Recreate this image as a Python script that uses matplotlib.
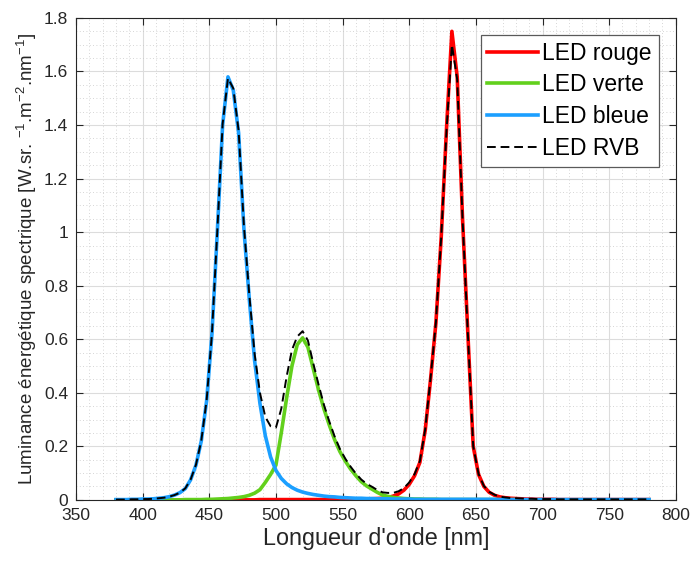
import numpy as np
import matplotlib.pyplot as plt
from matplotlib.ticker import MultipleLocator, FormatStrFormatter

plt.rcParams['font.family'] = ['Liberation Sans', 'DejaVu Sans']
plt.rcParams['mathtext.fontset'] = 'custom'
plt.rcParams['mathtext.rm'] = 'Liberation Sans'
plt.rcParams['mathtext.it'] = 'Liberation Sans:italic'

# wavelength grid, 380..780 nm step 4
wl = np.arange(380, 781, 4)

bleue = [0.001, 0.001, 0.001, 0.002, 0.002, 0.003, 0.003, 0.004, 0.006, 0.008,
         0.012, 0.018, 0.027, 0.042, 0.075, 0.13, 0.22, 0.37, 0.62, 1.00,
         1.40, 1.58, 1.53, 1.37, 1.01, 0.75, 0.52, 0.36, 0.24, 0.16,
         0.11, 0.08, 0.06, 0.046, 0.036, 0.029, 0.024, 0.020, 0.017, 0.014,
         0.012, 0.011, 0.009, 0.008, 0.007, 0.006, 0.006, 0.005, 0.005, 0.004,
         0.004, 0.004, 0.003, 0.003, 0.003, 0.003, 0.002, 0.002, 0.002, 0.002,
         0.002, 0.002, 0.002, 0.002, 0.002, 0.002, 0.002, 0.002, 0.002, 0.002,
         0.002, 0.002, 0.001, 0.001, 0.001, 0.001, 0.001, 0.001, 0.001, 0.001,
         0.001, 0.001, 0.001, 0.001, 0.001, 0.001, 0.001, 0.001, 0.001, 0.001,
         0.001, 0.001, 0.001, 0.001, 0.001, 0.001, 0.001, 0.001, 0.001, 0.001,
         0.001]

verte = [0.0, 0.0, 0.0, 0.0, 0.0, 0.0, 0.0, 0.0, 0.0, 0.0,
         0.0, 0.0, 0.0, 0.001, 0.001, 0.001, 0.001, 0.002, 0.002, 0.003,
         0.004, 0.005, 0.007, 0.009, 0.012, 0.017, 0.025, 0.038, 0.065, 0.095,
         0.13, 0.25, 0.38, 0.50, 0.58, 0.605, 0.57, 0.49, 0.41, 0.34,
         0.28, 0.225, 0.18, 0.145, 0.115, 0.09, 0.068, 0.052, 0.04, 0.028,
         0.018, 0.013, 0.009, 0.007, 0.005, 0.004, 0.003, 0.003, 0.002, 0.002,
         0.002, 0.001, 0.001, 0.001, 0.001, 0.001, 0.001, 0.001, 0.001, 0.001,
         0.001, 0.001, 0.001, 0.001, 0.001, 0.001, 0.0, 0.0, 0.0, 0.0,
         0.0, 0.0, 0.0, 0.0, 0.0, 0.0, 0.0, 0.0, 0.0, 0.0,
         0.0, 0.0, 0.0, 0.0, 0.0, 0.0, 0.0, 0.0, 0.0, 0.0,
         0.0]

rouge = [0.0, 0.0, 0.0, 0.0, 0.0, 0.0, 0.0, 0.0, 0.0, 0.0,
         0.0, 0.0, 0.0, 0.0, 0.0, 0.0, 0.0, 0.0, 0.0, 0.0,
         0.0, 0.0, 0.0, 0.0, 0.0, 0.0, 0.0, 0.001, 0.001, 0.001,
         0.001, 0.001, 0.001, 0.001, 0.001, 0.001, 0.001, 0.001, 0.001, 0.001,
         0.001, 0.001, 0.001, 0.001, 0.002, 0.002, 0.002, 0.003, 0.004, 0.005,
         0.006, 0.009, 0.014, 0.022, 0.036, 0.058, 0.09, 0.14, 0.26, 0.45,
         0.66, 0.98, 1.39, 1.75, 1.58, 1.05, 0.62, 0.20, 0.095, 0.05,
         0.028, 0.017, 0.011, 0.008, 0.006, 0.005, 0.004, 0.003, 0.003, 0.002,
         0.002, 0.002, 0.002, 0.001, 0.001, 0.001, 0.001, 0.001, 0.001, 0.001,
         0.001, 0.001, 0.001, 0.001, 0.001, 0.001, 0.001, 0.001, 0.001, 0.001,
         0.001]

rvb = [0.001, 0.001, 0.001, 0.002, 0.002, 0.003, 0.003, 0.004, 0.006, 0.008,
       0.012, 0.018, 0.027, 0.043, 0.076, 0.131, 0.221, 0.372, 0.622, 1.003,
       1.404, 1.575, 1.537, 1.379, 1.022, 0.767, 0.545, 0.40, 0.31, 0.275,
       0.27, 0.34, 0.46, 0.56, 0.61, 0.63, 0.595, 0.51, 0.43, 0.355,
       0.293, 0.237, 0.19, 0.154, 0.124, 0.098, 0.076, 0.06, 0.049, 0.037,
       0.028, 0.026, 0.026, 0.032, 0.044, 0.065, 0.096, 0.145, 0.264, 0.454,
       0.662, 0.982, 1.38, 1.70, 1.57, 1.05, 0.62, 0.20, 0.097, 0.052,
       0.03, 0.019, 0.012, 0.009, 0.007, 0.006, 0.005, 0.004, 0.004, 0.003,
       0.003, 0.003, 0.003, 0.002, 0.002, 0.002, 0.002, 0.002, 0.002, 0.002,
       0.002, 0.002, 0.002, 0.002, 0.002, 0.002, 0.002, 0.002, 0.002, 0.002,
       0.002]

col_rouge = '#ff0000'
col_verte = '#62d01c'
col_bleue = '#1b9fff'
txt = '#262626'

fig = plt.figure(figsize=(6.91, 5.61), dpi=100)
ax = fig.add_axes([0.110, 0.109, 0.868, 0.859])

ax.plot(wl, rouge, color=col_rouge, lw=2.6, label='LED rouge')
ax.plot(wl, verte, color=col_verte, lw=2.6, label='LED verte')
ax.plot(wl, bleue, color=col_bleue, lw=2.6, label='LED bleue')
ax.plot(wl, rvb, color='black', lw=1.4, ls=(0, (4.5, 2.5)), label='LED RVB')

ax.set_xlim(350, 800)
ax.set_ylim(0, 1.8)
ax.xaxis.set_major_locator(MultipleLocator(50))
ax.xaxis.set_minor_locator(MultipleLocator(10))
ax.yaxis.set_major_locator(MultipleLocator(0.2))
ax.yaxis.set_minor_locator(MultipleLocator(0.05))
ax.yaxis.set_major_formatter(FormatStrFormatter('%g'))

ax.grid(which='major', color='#dcdcdc', lw=0.8, ls='-')
ax.grid(which='minor', color='#c8c8c8', lw=0.6, ls=(0, (1, 3)))
ax.set_axisbelow(True)

ax.tick_params(which='major', direction='in', length=5, width=0.8,
               top=True, right=True, labelsize=12.5, colors=txt)
ax.tick_params(axis='x', which='major', pad=6)
ax.tick_params(axis='y', which='major', pad=5.5)
ax.tick_params(which='minor', length=0, top=True, right=True)
for s in ax.spines.values():
    s.set_color(txt)
    s.set_linewidth(0.8)

ax.set_xlabel("Longueur d'onde [nm]", fontsize=16.8, color=txt, labelpad=3)
ax.set_ylabel('Luminance énergétique spectrique [W.sr. $^{-1}$.m$^{-2}$.nm$^{-1}$]',
              fontsize=13.5, color=txt, labelpad=3.5)

leg = ax.legend(loc='upper right', fontsize=16.5, fancybox=False, framealpha=1,
                edgecolor='#5a5a5a', handlelength=2.2, handletextpad=0.2,
                borderpad=0.3, labelspacing=0.38, borderaxespad=0.74)
leg.get_frame().set_linewidth(0.9)

fig.savefig('out.png', dpi=100)
